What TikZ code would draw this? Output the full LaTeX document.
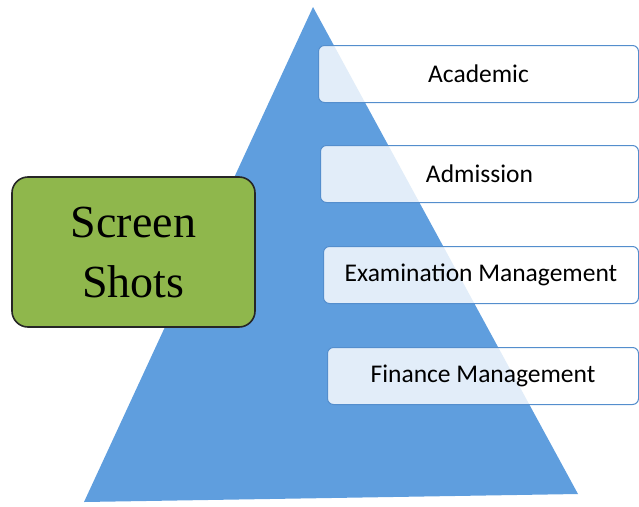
\documentclass[tikz,border=0pt]{standalone}
\usepackage{fontspec}
\setmainfont{Liberation Serif}
\newfontfamily\modulefont{Carlito}

\definecolor{pyramidblue}{RGB}{95,158,222}
\definecolor{shotsgreen}{RGB}{143,183,76}
\definecolor{itemedge}{RGB}{84,142,205}

\tikzset{
  moduleitem/.style={draw=itemedge, line width=1pt, rounded corners=6pt,
    fill=white, fill opacity=0.82, text opacity=1, anchor=west,
    minimum height=57pt, inner sep=0pt, font=\modulefont\fontsize{25.5}{30}\selectfont},
  shotsbox/.style={draw=black!85, line width=1.6pt, rounded corners=16pt,
    fill=shotsgreen, align=center, minimum width=243pt, minimum height=150pt,
    font=\rmfamily\fontsize{46}{60}\selectfont}
}

\begin{document}
\begin{tikzpicture}[x=1pt,y=-1pt]

\useasboundingbox (0,0) rectangle (639,506);

\coordinate (apex) at (313,7);
\coordinate (baseright) at (578,494);
\coordinate (baseleft) at (84,502);

\fill[pyramidblue] (apex) -- (baseright) -- (baseleft) -- cycle;

\foreach \y/\xl/\name/\modname in {
  74/318/academic/Academic,
  174/320/admission/Admission,
  275/323/exam/Examination Management,
  376/327/finance/Finance Management}
    \node[moduleitem, minimum width={638-\xl}] (\name) at (\xl,\y) {\modname};

\node[shotsbox] (shots) at (133.5,252) {Screen\\Shots};

\end{tikzpicture}
\end{document}
